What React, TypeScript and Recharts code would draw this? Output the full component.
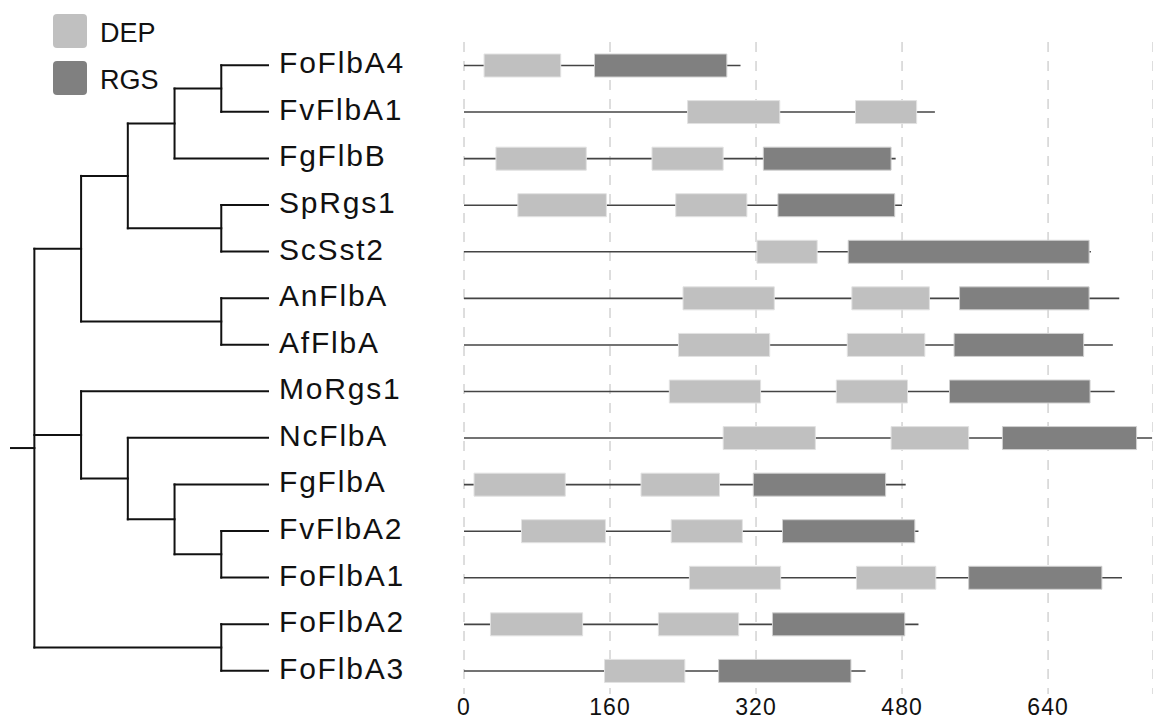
import React from 'react'
import {
  ComposedChart,
  Bar,
  XAxis,
  YAxis,
  CartesianGrid,
  Legend,
  ReferenceLine,
  Scatter,
} from 'recharts'

// protein names, top to bottom (same order as the tree leaves)
const proteins = [
  'FoFlbA4', 'FvFlbA1', 'FgFlbB', 'SpRgs1', 'ScSst2', 'AnFlbA', 'AfFlbA',
  'MoRgs1', 'NcFlbA', 'FgFlbA', 'FvFlbA2', 'FoFlbA1', 'FoFlbA2', 'FoFlbA3',
]

// sequence length (aa)
const lengths = [303, 516, 473, 480, 687, 718, 711, 713, 754, 484, 498, 721, 498, 440]

// first DEP domain [start, end]
const dep1: [number, number][] = [
  [22, 106], [245, 346], [35, 134], [59, 156], [321, 387], [240, 340], [235, 335],
  [225, 325], [284, 385], [11, 111], [63, 155], [247, 347], [29, 130], [154, 242],
]

// second DEP domain (null when there is none)
const dep2: ([number, number] | null)[] = [
  null, [429, 496], [206, 284], [232, 310], null, [425, 510], [420, 505],
  [408, 486], [468, 553], [194, 280], [227, 305], [430, 517], [213, 301], null,
]

// RGS domain
const rgs: ([number, number] | null)[] = [
  [143, 288], null, [328, 468], [344, 472], [421, 685], [543, 685], [537, 679],
  [532, 686], [590, 737], [317, 462], [349, 494], [553, 699], [338, 483], [279, 424],
]

const xTicks = [0, 160, 320, 480, 640]

// cladogram topology (nested pairs / triple at the root)
type Tree = string | Tree[]
const tree: Tree = [
  [[[['FoFlbA4', 'FvFlbA1'], 'FgFlbB'], ['SpRgs1', 'ScSst2']], ['AnFlbA', 'AfFlbA']],
  ['MoRgs1', ['NcFlbA', ['FgFlbA', ['FvFlbA2', 'FoFlbA1']]]],
  ['FoFlbA2', 'FoFlbA3'],
]

const DEP_COLOR = '#c0c0c0'
const RGS_COLOR = '#808080'
const FONT = '"Liberation Sans", Arial, sans-serif'

const rows = proteins.map((name, i) => ({
  name,
  len: [0, lengths[i]],
  dep1: dep1[i],
  dep2: dep2[i],
  rgs: rgs[i],
}))

// --- tree layout -----------------------------------------------------------
type Seg = { x1: number; y1: number; x2: number; y2: number }
type Node = { x: number; y: number; h: number }

function depth(t: Tree): number {
  return typeof t === 'string' ? 0 : 1 + Math.max(...t.map(depth))
}
const maxH = depth(tree)
const segments: Seg[] = []

function layout(t: Tree): Node {
  if (typeof t === 'string') return { x: maxH, y: proteins.indexOf(t), h: 0 }
  const kids = t.map(layout)
  const h = 1 + Math.max(...kids.map((k) => k.h))
  const x = maxH - h
  const y = (kids[0].y + kids[kids.length - 1].y) / 2
  segments.push({ x1: x, y1: kids[0].y, x2: x, y2: kids[kids.length - 1].y })
  kids.forEach((k) => segments.push({ x1: x, y1: k.y, x2: k.x, y2: k.y }))
  return { x, y, h }
}
const root = layout(tree)
segments.push({ x1: root.x - 0.5, y1: root.y, x2: root.x, y2: root.y })

const leaves = proteins.map((name, i) => ({ x: maxH, y: i, name }))

// --- custom shapes ---------------------------------------------------------
const Backbone = (props: any) => {
  const { x, y, width, height } = props
  if (width == null) return null
  return (
    <line x1={x} x2={x + width} y1={y + height / 2} y2={y + height / 2} stroke="#444" strokeWidth={1.6} />
  )
}

const LeafLabel = (props: any) => (
  <text
    x={props.cx + 11}
    y={props.cy}
    dy={8}
    fontSize={30}
    letterSpacing={1.8}
    fill="#111"
    fontFamily={FONT}
  >
    {props.payload.name}
  </text>
)

const renderLegend = (props: any) => {
  const seen = new Set<string>()
  const items = (props.payload || []).filter((p: any) => {
    if (p.type === 'none' || seen.has(p.value)) return false
    seen.add(p.value)
    return true
  })
  return (
    <div style={{ fontFamily: FONT }}>
      {items.map((item: any) => (
        <div key={item.value} style={{ display: 'flex', alignItems: 'center', height: 46.7 }}>
          <span
            style={{
              display: 'inline-block',
              width: 34,
              height: 34,
              borderRadius: 4,
              background: item.color,
            }}
          />
          <span style={{ marginLeft: 13, fontSize: 27, color: '#111', paddingTop: 4 }}>{item.value}</span>
        </div>
      ))}
    </div>
  )
}

export default function App() {
  return (
    <div style={{ position: 'absolute', left: 0, top: 0, width: 1153, height: 721, background: '#fff' }}>
      <ComposedChart
        layout="vertical"
        width={1153}
        height={721}
        data={rows}
        margin={{ top: 42, right: 0, bottom: 0, left: 464 }}
        barGap={-23}
      >
        <CartesianGrid horizontal={false} stroke="#bcbcbc" strokeDasharray="10 9" />
        <XAxis
          type="number"
          domain={[0, 755]}
          ticks={xTicks}
          axisLine={false}
          tickLine={false}
          tickSize={0}
          tickMargin={5}
          height={27}
          tick={{ fontSize: 23, fill: '#111', fontFamily: FONT, letterSpacing: 1 }}
        />
        <YAxis type="category" dataKey="name" hide />
        <Legend
          layout="horizontal"
          align="center"
          verticalAlign="middle"
          content={renderLegend}
          wrapperStyle={{ top: 8, left: 53, width: 'auto' }}
        />
        <Bar dataKey="len" barSize={23} legendType="none" shape={Backbone} isAnimationActive={false} />
        <Bar dataKey="dep1" name="DEP" barSize={23} fill={DEP_COLOR} stroke="#e2e2e2" strokeWidth={1} isAnimationActive={false} />
        <Bar dataKey="dep2" name="DEP" barSize={23} fill={DEP_COLOR} stroke="#e2e2e2" strokeWidth={1} isAnimationActive={false} />
        <Bar dataKey="rgs" name="RGS" barSize={23} fill={RGS_COLOR} stroke="#d0d0d0" strokeWidth={1} isAnimationActive={false} />
      </ComposedChart>

      <div style={{ position: 'absolute', left: 0, top: 0 }}>
        <ComposedChart width={464} height={721} margin={{ top: 42, right: 196, bottom: 27, left: 11 }}>
          <XAxis type="number" dataKey="x" domain={[-0.5, maxH]} hide />
          <YAxis type="number" dataKey="y" domain={[-0.5, proteins.length - 0.5]} reversed hide />
          {segments.map((s, i) => (
            <ReferenceLine
              key={i}
              segment={[{ x: s.x1, y: s.y1 }, { x: s.x2, y: s.y2 }]}
              stroke="#111"
              strokeWidth={2}
              strokeLinecap="square"
              ifOverflow="visible"
            />
          ))}
          <Scatter data={leaves} dataKey="y" shape={LeafLabel} isAnimationActive={false} />
        </ComposedChart>
      </div>
    </div>
  )
}
